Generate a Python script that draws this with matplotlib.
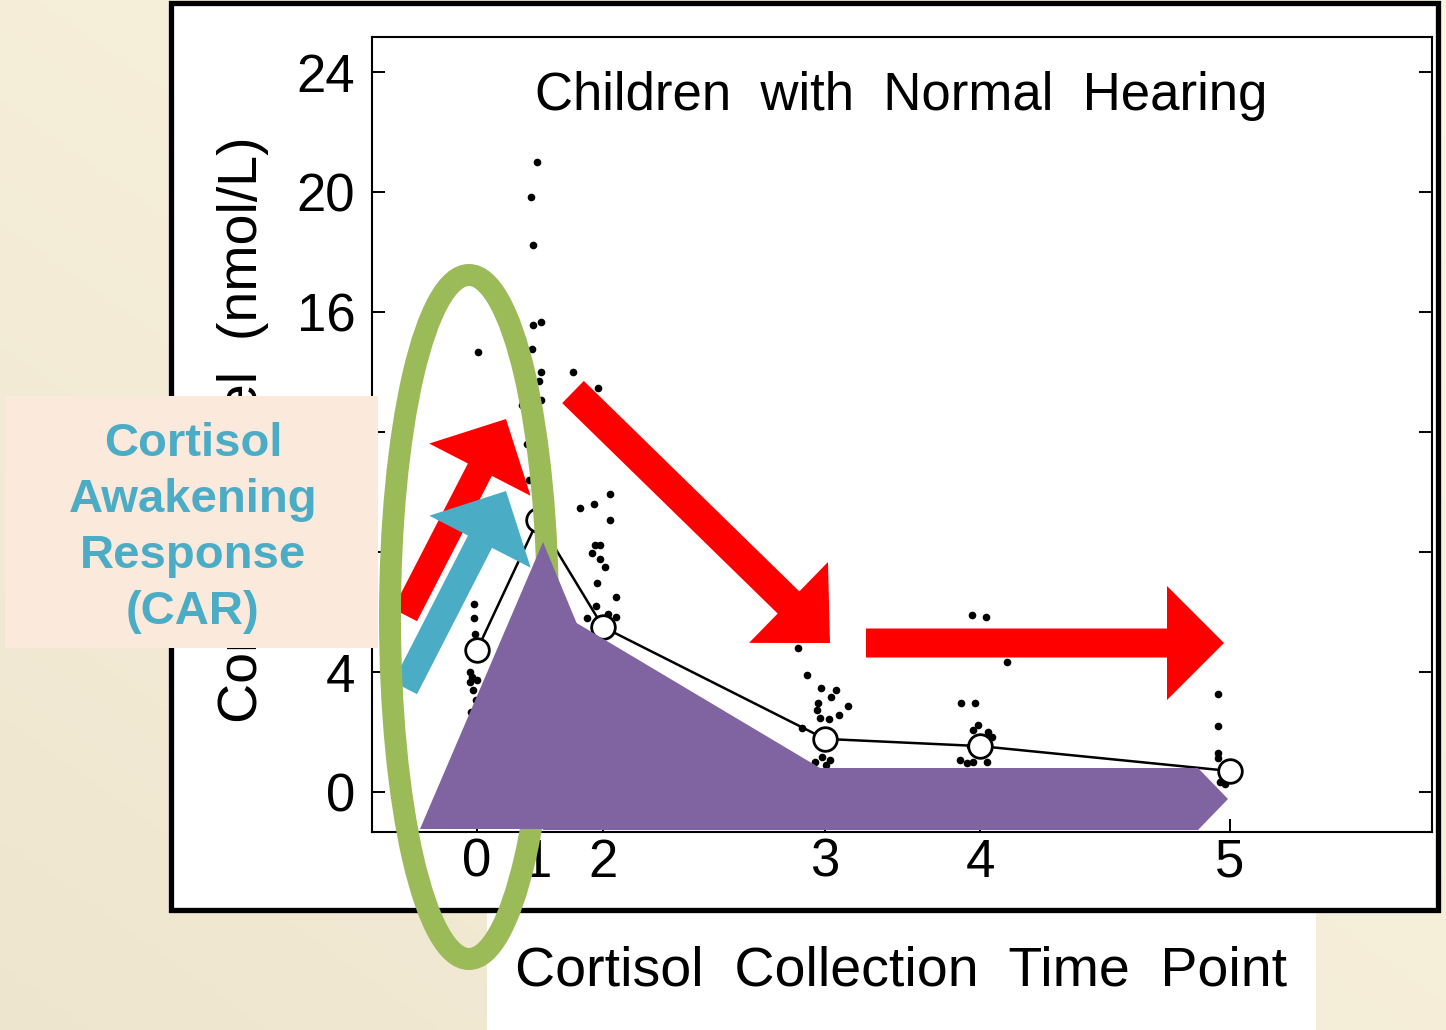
import numpy as np
import matplotlib
matplotlib.use("Agg")
import matplotlib.pyplot as plt
from matplotlib.patches import Polygon, Ellipse, Rectangle

plt.rcParams['font.family'] = ['Liberation Sans', 'DejaVu Sans']

W, H = 1446, 1030

# collection time points (spacing as in the original axis), labelled 0..5
tick_pos = [0, 61, 126, 348, 503, 753]
tick_labels = ['0', '1', '2', '3', '4', '5']
mean_cortisol = [4.73, 9.07, 5.5, 1.77, 1.53, 0.7]

# individual samples (x = position on time axis, y = nmol/L)
t0_x = [1, -3, -3, -2, -7, -5, -7, 0, -4, -1, -6]
t0_y = [14.67, 6.27, 5.8, 5.27, 4.0, 3.83, 3.67, 3.73, 3.4, 3.07, 2.67]
t1_x = [60, 54, 56, 56, 64, 55, 64, 62, 64, 45, 50, 52]
t1_y = [21.0, 19.83, 18.23, 15.57, 15.67, 14.77, 14.0, 13.7, 13.07, 12.9, 11.6, 10.4]
t2_x = [96, 121, 133, 117, 103, 133, 118, 123, 115, 123, 128, 120, 139, 119, 110, 131, 139]
t2_y = [14.0, 13.47, 9.93, 9.6, 9.47, 9.07, 8.23, 8.23, 7.97, 7.77, 7.5, 6.97, 6.5, 6.2,
        5.8, 5.93, 5.83]
t3_x = [321, 330, 344, 359, 354, 371, 341, 340, 362, 343, 352, 325, 345, 353, 338, 349]
t3_y = [4.8, 3.9, 3.47, 3.4, 3.17, 2.87, 2.97, 2.73, 2.57, 2.47, 2.43, 2.13, 1.17, 1.07,
        1.0, 0.9]
t4_x = [495, 509, 530, 484, 498, 501, 496, 511, 515, 493, 483, 496, 510, 490]
t4_y = [5.9, 5.83, 4.33, 2.97, 2.97, 2.23, 2.07, 2.0, 1.83, 1.53, 1.07, 1.0, 1.0, 0.97]
t5_x = [741, 741, 741, 741, 743, 748]
t5_y = [3.27, 2.2, 1.3, 1.13, 0.33, 0.27]

y_ticks = [0, 4, 8, 12, 16, 20, 24]

car_lines = ['Cortisol', 'Awakening', 'Response', '(CAR)']

RED = '#ff0000'
BLUE = '#4bacc6'
GREEN = '#9bbb59'
PURPLE = '#8064a2'
PEACH = '#fbe9db'


def block_arrow(tail, tip, shaft_w, head_w, head_len):
    tail = np.array(tail, float)
    tip = np.array(tip, float)
    d = tip - tail
    u = d / np.hypot(*d)
    n = np.array([-u[1], u[0]])
    base = tip - u * head_len
    return [tail + n * shaft_w / 2, base + n * shaft_w / 2, base + n * head_w / 2, tip,
            base - n * head_w / 2, base - n * shaft_w / 2, tail - n * shaft_w / 2]


fig = plt.figure(figsize=(W / 100, H / 100), dpi=100)

# slide background + white framed box
bg = fig.add_axes([0, 0, 1, 1], zorder=0)
bg.set_xlim(0, W)
bg.set_ylim(H, 0)
bg.axis('off')
yy, xx = np.mgrid[0:1:200j, 0:1:200j]
t = np.clip((yy - xx + 1) / 2, 0, 1)
light = np.array([0.988, 0.965, 0.890])
dark = np.array([0.935, 0.900, 0.810])
grad = light[None, None, :] * (1 - t[..., None]) + dark[None, None, :] * t[..., None]
bg.imshow(grad, extent=(0, W, H, 0), aspect='auto', interpolation='bilinear')
bg.add_patch(Rectangle((487, 905), 829, 130, facecolor='white', edgecolor='none'))
bg.add_patch(Rectangle((171, 2.5), 1266.5, 907, facecolor='white', edgecolor='black',
                       linewidth=3.8))

# the chart itself
ax = fig.add_axes([372 / W, 1 - 832 / H, 1060 / W, 795 / H], zorder=1)
ax.set_facecolor('white')
groups_x = [t0_x, t1_x, t2_x, t3_x, t4_x, t5_x]
groups_y = [t0_y, t1_y, t2_y, t3_y, t4_y, t5_y]
for gx, gy in zip(groups_x, groups_y):
    ax.plot(gx, gy, 'o', color='black', markersize=5.5, markeredgewidth=0, zorder=2)
ax.plot(tick_pos, mean_cortisol, '-', color='black', linewidth=1.8, zorder=3)
ax.plot(tick_pos, mean_cortisol, 'o', markerfacecolor='white', markeredgecolor='black',
        markersize=17, markeredgewidth=2.0, zorder=4)
ax.set_xlim(-105, 955)
ax.set_ylim(-40 / 30, 755 / 30)
ax.set_xticks(tick_pos)
ax.set_xticklabels(tick_labels)
ax.set_yticks(y_ticks)
ax.set_yticklabels([str(v) for v in y_ticks])
ax.tick_params(axis='both', direction='in', length=9.5, width=1.4, labelsize=38)
ax.tick_params(axis='y', right=True, pad=12)
ax.tick_params(axis='x', pad=4)
for sp in ax.spines.values():
    sp.set_linewidth(1.5)
ax.text(0.499, (832 - 110) / 795, 'Children  with  Normal  Hearing', transform=ax.transAxes,
        ha='center', va='baseline', fontsize=38)

# annotation layer in slide pixel coordinates
ov = fig.add_axes([0, 0, 1, 1], zorder=2)
ov.set_xlim(0, W)
ov.set_ylim(H, 0)
ov.axis('off')
ov.patch.set_alpha(0)

# y label sits partly under the CAR box, as on the slide
ov.text(243, 430, 'Cortisol  Level  (nmol/L)', rotation=90, ha='center', va='center',
        fontsize=40, zorder=1)
ov.text(901, 985, 'Cortisol  Collection  Time  Point', ha='center', va='baseline',
        fontsize=40, zorder=1)

ov.add_patch(Polygon(block_arrow((405, 615), (506, 419), 27, 114, 57), closed=True,
                     facecolor=RED, edgecolor='none', zorder=2))
ov.add_patch(Polygon(block_arrow((405, 688), (506, 491), 27, 114, 57), closed=True,
                     facecolor=BLUE, edgecolor='none', zorder=3))
ov.add_patch(Polygon(block_arrow((573, 392), (830, 643), 31, 113, 58), closed=True,
                     facecolor=RED, edgecolor='none', zorder=2))
ov.add_patch(Polygon(block_arrow((866, 643), (1224, 643), 29, 114, 57), closed=True,
                     facecolor=RED, edgecolor='none', zorder=2))

ov.add_patch(Ellipse((469, 617), 158, 684, facecolor='none', edgecolor=GREEN,
                     linewidth=15.8, zorder=4))

ov.add_patch(Polygon([(420, 829), (543, 542), (662, 829)], closed=True,
                     facecolor=PURPLE, edgecolor='none', zorder=5))
ov.add_patch(Polygon([(543, 603), (820, 768), (1198, 768), (1228, 799), (1198, 830),
                      (543, 830)], closed=True, facecolor=PURPLE, edgecolor='none',
                     zorder=5))

ov.add_patch(Rectangle((5, 396), 373, 252, facecolor=PEACH, edgecolor='none', zorder=6))
for line, base in zip(car_lines, [456, 512, 568, 624]):
    ov.text(193, base, line, ha='center', va='baseline', fontsize=34, fontweight='bold',
            color=BLUE, zorder=7)

fig.savefig('out.png', dpi=100)
